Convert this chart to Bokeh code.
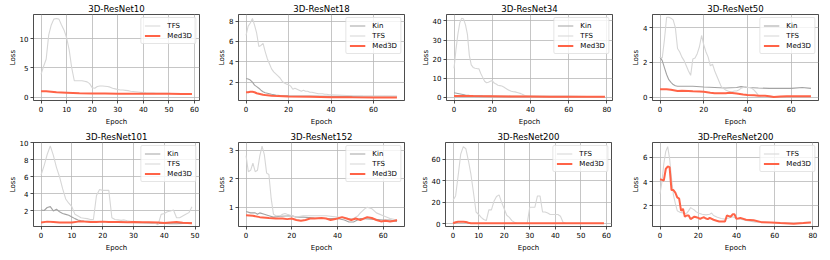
from bokeh.plotting import figure
from bokeh.layouts import row, column
from bokeh.models import FixedTicker, Range1d, Legend, LegendItem, Spacer
from bokeh.embed import file_html
from bokeh.resources import INLINE

TITLES = ["3D-ResNet10", "3D-ResNet18", "3D-ResNet34", "3D-ResNet50",
          "3D-ResNet101", "3D-ResNet152", "3D-ResNet200", "3D-PreResNet200"]
X_TICKS = [[0, 10, 20, 30, 40, 50, 60], [0, 20, 40, 60], [0, 20, 40, 60, 80], [0, 20, 40, 60],
           [0, 10, 20, 30, 40, 50], [0, 20, 40, 60], [0, 10, 20, 30, 40, 50, 60], [0, 20, 40, 60, 80]]
Y_TICKS = [[0, 5, 10], [2, 4, 6, 8], [0, 10, 20, 30, 40], [0, 2, 4],
           [2, 4, 6, 8, 10], [1, 2, 3], [0, 20, 40, 60], [2, 4, 6]]
X_LIMITS = [(-2.95, 61.95), (-3.55, 74.55), (-3.95, 82.95), (-3.45, 72.45),
            (-2.45, 51.45), (-3.3, 69.3), (-2.95, 61.95), (-3.95, 82.95)]
Y_LIMITS = [(-0.6, 14.2), (0.19, 8.64), (-1.6, 43.4), (-0.2, 4.76),
            (0.18, 10.0), (0.32, 3.28), (-2.5, 75.8), (0.29, 7.24)]

# ---- 3D-ResNet10 ----
tfs10_x = list(range(60))
tfs10_y = [3.9, 5.3, 6.5, 10.7, 12.4, 13.4, 13.5, 13.4, 12.4, 11.5, 10.2, 8.1, 5.0, 2.8, 2.8, 2.8, 2.8, 2.7, 2.6, 2.3,
           1.6, 1.5, 1.8, 1.9, 1.9, 1.85, 1.8, 1.7, 1.5, 1.4, 1.3, 1.2, 1.2, 1.15, 1.1, 1.0, 0.95, 0.9, 0.85, 0.8,
           0.75, 0.72, 0.7, 0.7, 0.68, 0.66, 0.65, 0.64, 0.63, 0.62, 0.62, 0.61, 0.6, 0.6, 0.6, 0.59, 0.58, 0.58, 0.58, 0.57]
med10_x = [0, 2, 4, 6, 8, 10, 15, 20, 25, 30, 35, 40, 45, 50, 55, 59]
med10_y = [1.0, 0.98, 0.92, 0.8, 0.77, 0.74, 0.66, 0.62, 0.6, 0.58, 0.57, 0.56, 0.55, 0.55, 0.54, 0.54]

# ---- 3D-ResNet18 ----
kin18_x = [0, 1, 2, 3, 4, 5, 6, 7, 8, 9, 10, 12, 14, 16, 20, 25, 30, 40, 50, 60, 71]
kin18_y = [2.35, 2.3, 2.2, 2.0, 1.7, 1.55, 1.4, 1.2, 1.05, 0.95, 0.9, 0.8, 0.72, 0.68, 0.65, 0.62, 0.62, 0.6, 0.6, 0.6, 0.6]
tfs18_x = list(range(41)) + [45, 50, 55, 60, 65, 71]
tfs18_y = [6.6, 7.5, 7.8, 8.25, 7.6, 6.8, 5.5, 5.6, 5.8, 5.0, 4.3, 3.8, 3.3, 3.0, 2.8, 2.6, 2.4, 2.1, 1.9, 1.8,
           1.75, 1.6, 1.3, 1.4, 1.3, 1.2, 1.1, 1.2, 1.1, 1.1, 1.0, 1.0, 0.95, 0.9, 0.85, 0.85, 0.85, 0.8, 0.8, 0.75,
           0.75, 0.7, 0.65, 0.62, 0.6, 0.6, 0.58]
med18_x = [0, 1, 2, 3, 4, 5, 6, 7, 8, 9, 10, 12, 15, 20, 30, 40, 50, 60, 71]
med18_y = [1.0, 1.0, 1.05, 1.05, 1.0, 0.9, 0.85, 0.8, 0.75, 0.72, 0.7, 0.66, 0.62, 0.58, 0.55, 0.52, 0.5, 0.49, 0.48]

# ---- 3D-ResNet34 ----
kin34_x = [0, 2, 4, 6, 8, 10, 15, 20, 30, 40, 50, 60, 70, 79]
kin34_y = [2.5, 2.1, 1.7, 1.3, 1.1, 1.0, 0.85, 0.75, 0.65, 0.6, 0.55, 0.55, 0.5, 0.5]
tfs34_x = list(range(41)) + [50, 60, 70, 79]
tfs34_y = [15.2, 25, 33, 39, 41.5, 41, 38, 33, 22, 17, 15.7, 15.3, 15.1, 15, 12.5, 10.5, 8.5, 7.7, 8.0, 8.5,
           8.8, 7.5, 7.0, 6.4, 6.2, 6.0, 5.5, 4.8, 4.2, 3.6, 3.2, 3.0, 2.9, 2.6, 2.3, 2.0, 1.5, 1.0, 0.7, 0.5,
           0.5, 0.5, 0.5, 0.5, 0.5]
med34_x = [0, 5, 10, 20, 30, 40, 50, 60, 70, 79]
med34_y = [0.8, 0.8, 0.7, 0.6, 0.5, 0.45, 0.4, 0.35, 0.3, 0.3]

# ---- 3D-ResNet50 ----
kin50_x = [0, 1, 2, 3, 4, 5, 6, 7, 8, 10, 15, 20, 25, 30, 35, 37, 40, 45, 50, 55, 60, 65, 69]
kin50_y = [2.3, 2.1, 1.7, 1.3, 1.0, 0.85, 0.72, 0.65, 0.62, 0.62, 0.62, 0.58, 0.55, 0.52, 0.55, 0.6, 0.55, 0.52,
           0.5, 0.5, 0.5, 0.55, 0.5]
tfs50_x = list(range(47))
tfs50_y = [2.3, 2.25, 3.3, 4.6, 4.6, 4.55, 4.45, 4.0, 2.8, 2.6, 2.3, 2.1, 1.8, 1.5, 1.25, 2.2, 2.25, 2.5, 2.9, 3.55,
           3.0, 2.6, 2.3, 1.8, 1.9, 1.5, 1.2, 0.9, 0.6, 0.5, 0.4, 0.35, 0.3, 0.3, 0.35, 0.35, 0.4, 0.5, 0.55, 0.6,
           0.55, 0.55, 0.5, 0.4, 0.25, 0.1, 0.05]
med50_x = [0, 3, 5, 8, 10, 13, 15, 18, 20, 23, 25, 28, 30, 32, 35, 38, 40, 43, 45, 48, 50, 52, 55, 58, 60, 63, 65, 69]
med50_y = [0.45, 0.45, 0.42, 0.35, 0.36, 0.35, 0.33, 0.32, 0.3, 0.25, 0.22, 0.22, 0.22, 0.25, 0.2, 0.15, 0.12,
           0.1, 0.08, 0.07, 0.05, 0.0, 0.03, 0.05, 0.05, 0.04, 0.05, 0.05]

# ---- 3D-ResNet101 ----
kin101_x = list(range(16)) + [20, 25, 30, 35, 38, 40, 42, 44, 46, 49]
kin101_y = [2.1, 2.05, 2.4, 2.5, 2.0, 2.2, 1.9, 1.7, 1.6, 1.5, 1.3, 1.1, 0.95, 0.85, 0.8, 0.8,
            0.75, 0.7, 0.65, 0.6, 0.55, 0.55, 0.5, 0.5, 0.55, 0.6]
tfs101_x = list(range(50))
tfs101_y = [6.2, 7.3, 8.6, 9.6, 8.5, 7.1, 6.0, 4.6, 3.4, 2.9, 2.5, 1.6, 1.4, 1.2, 1.15, 1.1, 1.0, 1.0, 3.8, 4.5,
            4.4, 4.4, 4.4, 1.2, 1.0, 0.95, 0.9, 0.95, 0.85, 0.8, 0.75, 0.7, 0.7, 0.65, 0.65, 0.6, 0.6, 0.55, 0.4, 1.6,
            1.7, 1.9, 2.0, 2.1, 1.2, 1.2, 1.4, 1.6, 1.8, 2.5]
med101_x = [0, 2, 4, 6, 8, 10, 12, 14, 16, 18, 20, 22, 25, 28, 30, 33, 35, 38, 40, 42, 44, 46, 49]
med101_y = [0.65, 0.75, 0.72, 0.65, 0.65, 0.65, 0.75, 0.75, 0.72, 0.72, 0.75, 0.7, 0.7, 0.68, 0.7, 0.68, 0.68,
            0.65, 0.6, 0.65, 0.7, 0.62, 0.55]

# ---- 3D-ResNet152 ----
kin152_x = [0, 2, 4, 5, 6, 8, 10, 12, 15, 20, 22, 25, 30, 35, 40, 43, 45, 47, 50, 55, 60, 63, 66]
kin152_y = [0.85, 0.8, 0.8, 0.75, 0.8, 0.75, 0.7, 0.65, 0.68, 0.7, 0.65, 0.65, 0.62, 0.6, 0.6, 0.55, 0.48, 0.48,
            0.6, 0.58, 0.55, 0.55, 0.5]
tfs152_x = list(range(14)) + [15, 16, 17, 18, 20, 22, 25, 30, 35, 40, 45, 47, 49, 50, 52, 53, 55, 57, 60, 63, 66]
tfs152_y = [2.82, 2.25, 2.3, 2.55, 2.25, 2.3, 2.8, 3.15, 2.85, 2.2, 2.15, 1.3, 0.75, 0.7,
            0.7, 0.75, 0.78, 0.75, 0.7, 0.65, 0.7, 0.7, 0.7, 0.65, 0.6, 0.6, 0.7, 0.8, 0.95, 1.0, 0.95, 0.8, 0.7,
            0.6, 0.55]
med152_x = [0, 3, 6, 10, 13, 16, 18, 20, 22, 24, 26, 28, 30, 33, 35, 37, 40, 42, 44, 46, 48, 50, 53, 55, 57,
            59, 61, 63, 65, 66]
med152_y = [0.72, 0.7, 0.65, 0.62, 0.6, 0.6, 0.58, 0.6, 0.55, 0.52, 0.55, 0.6, 0.6, 0.62, 0.6, 0.55, 0.6, 0.65,
            0.6, 0.55, 0.6, 0.55, 0.65, 0.62, 0.55, 0.5, 0.52, 0.5, 0.52, 0.55]

# ---- 3D-ResNet200 ----
tfs200_x = list(range(45))
tfs200_y = [22, 26, 45, 65, 72, 70, 59, 46, 29, 11, 8.7, 6, 4, 3, 13, 13, 21, 25.5, 27, 20,
            14, 8, 6, 3, 1.5, 0.5, 0.5, 0.5, 0.5, 0.5, 15.5, 15.5, 15.5, 26, 26, 11, 11, 10, 8.7, 8.7,
            8.7, 8.7, 7, 1.5, 0.5]
med200_x = [0, 1, 2, 3, 4, 5, 6, 7, 10, 20, 30, 40, 50, 59]
med200_y = [0.5, 1.5, 2.0, 2.0, 2.0, 1.8, 1.0, 0.6, 0.5, 0.5, 0.5, 0.5, 0.5, 0.5]

# ---- 3D-PreResNet200 ----
tfspre_x = list(range(21)) + [22, 24, 26, 27, 28, 30, 32, 34, 36, 38, 40, 42, 45, 50, 55, 60, 65, 70, 75, 79]
tfspre_y = [3.0, 4.0, 5.5, 6.5, 6.9, 5.9, 4.3, 2.9, 2.2, 1.6, 1.5, 1.45, 1.4, 1.35, 1.4, 1.6, 1.85, 1.75, 1.65, 1.5,
            1.4, 1.3, 1.25, 1.3, 1.4, 1.2, 1.05, 0.95, 0.9, 1.0, 1.1, 0.95, 0.9, 0.8, 0.65, 0.65, 0.6, 0.6, 0.6,
            0.62, 0.65]
medpre_x = [0, 1, 2, 3, 4, 5, 6, 7, 8, 9, 10, 11, 12, 13, 14, 15, 16, 17, 18, 19, 20, 21, 22, 23, 24, 25, 26,
            28, 30, 31, 33, 34, 35, 36, 37, 38, 39, 40, 42, 45, 49, 53, 58, 63, 70, 75, 79]
medpre_y = [4.2, 4.15, 4.1, 5.05, 5.25, 5.2, 3.3, 3.3, 3.1, 2.7, 2.6, 1.6, 1.75, 1.1, 1.2, 1.2, 0.9, 1.0, 1.1,
            1.05, 1.0, 0.92, 1.0, 1.05, 0.95, 0.9, 1.0, 0.85, 0.75, 0.7, 0.7, 0.7, 1.2, 1.15, 1.1, 1.3, 1.3, 0.92,
            1.0, 0.85, 0.8, 0.65, 0.62, 0.57, 0.52, 0.57, 0.62]

SERIES = [
    [(None, None), (tfs10_x, tfs10_y), (med10_x, med10_y)],
    [(kin18_x, kin18_y), (tfs18_x, tfs18_y), (med18_x, med18_y)],
    [(kin34_x, kin34_y), (tfs34_x, tfs34_y), (med34_x, med34_y)],
    [(kin50_x, kin50_y), (tfs50_x, tfs50_y), (med50_x, med50_y)],
    [(kin101_x, kin101_y), (tfs101_x, tfs101_y), (med101_x, med101_y)],
    [(kin152_x, kin152_y), (tfs152_x, tfs152_y), (med152_x, med152_y)],
    [(None, None), (tfs200_x, tfs200_y), (med200_x, med200_y)],
    [(None, None), (tfspre_x, tfspre_y), (medpre_x, medpre_y)],
]
NAMES = ["Kin", "TFS", "Med3D"]
COLORS = ["#a3a3a3", "#d6d6d6", "#ff6347"]
WIDTHS = [1.1, 1.1, 2.0]

FONT = "DejaVu Sans"
FRAME_W = 166
RIGHT = [1, 1, 1, 1]
# spacer placed before each figure so the plot frames sit where they do in the reference
SPACERS = [[5, 15, 13, 16], [5, 15, 12, 17]]
ROW_FRAME_H = [86, 84]
ROW_TOP = [12, 12]
ROW_BOTTOM = [28, 21]


def make(i):
    r, c = divmod(i, 4)
    p = figure(frame_width=FRAME_W, frame_height=ROW_FRAME_H[r], output_backend="svg", toolbar_location=None,
               x_range=Range1d(*X_LIMITS[i]), y_range=Range1d(*Y_LIMITS[i]),
               min_border_left=4, min_border_right=RIGHT[c],
               min_border_top=ROW_TOP[r], min_border_bottom=ROW_BOTTOM[r],
               title=TITLES[i])
    p.title.text_font = FONT
    p.title.text_font_size = "8.6px"
    p.title.text_font_style = "normal"
    p.title.text_color = "black"
    p.title.align = "center"
    p.title.standoff = 2
    p.outline_line_color = "black"
    p.outline_line_width = 0.7
    p.background_fill_color = "white"
    p.border_fill_color = "white"
    p.xaxis.ticker = FixedTicker(ticks=X_TICKS[i])
    p.yaxis.ticker = FixedTicker(ticks=Y_TICKS[i])
    p.xaxis.axis_label = "Epoch"
    p.yaxis.axis_label = "Loss"
    for ax in (p.xaxis, p.yaxis):
        ax.axis_line_color = None
        ax.major_tick_out = 3
        ax.major_tick_in = 0
        ax.minor_tick_out = 0
        ax.minor_tick_in = 0
        ax.major_tick_line_color = "black"
        ax.major_tick_line_width = 0.7
        ax.major_label_text_font = FONT
        ax.major_label_text_font_size = "7px"
        ax.major_label_text_color = "black"
        ax.major_label_standoff = 2
        ax.axis_label_text_font = FONT
        ax.axis_label_text_font_size = "7px"
        ax.axis_label_text_font_style = "normal"
        ax.axis_label_text_color = "black"
        ax.axis_label_text_line_height = 1.0
    p.xaxis.axis_label_standoff = 3
    p.yaxis.axis_label_standoff = 0
    p.grid.grid_line_color = "#b8b8b8"
    p.grid.grid_line_width = 0.8
    items = []
    for k, (xs, ys) in enumerate(SERIES[i]):
        if xs is None:
            continue
        rr = p.line(xs, ys, line_color=COLORS[k], line_width=WIDTHS[k])
        items.append(LegendItem(label=NAMES[k], renderers=[rr]))
    leg = Legend(items=items, location="top_right")
    leg.label_text_font = FONT
    leg.label_text_font_size = "7px"
    leg.label_text_color = "black"
    leg.label_height = 9
    leg.glyph_height = 9
    leg.glyph_width = 16
    leg.label_standoff = 7
    leg.spacing = 1
    leg.padding = 3
    leg.margin = 3
    leg.border_line_color = "#cccccc"
    leg.border_line_width = 0.8
    leg.border_radius = 2
    leg.background_fill_alpha = 0.8
    p.add_layout(leg)
    return p


figs = [make(i) for i in range(8)]
rows = []
for r in range(2):
    kids = []
    for c in range(4):
        kids.append(Spacer(width=SPACERS[r][c], height=10))
        kids.append(figs[r * 4 + c])
    rows.append(row(*kids, spacing=0))
layout = column(*rows, spacing=0)
open("out.html", "w").write(file_html(layout, INLINE))
